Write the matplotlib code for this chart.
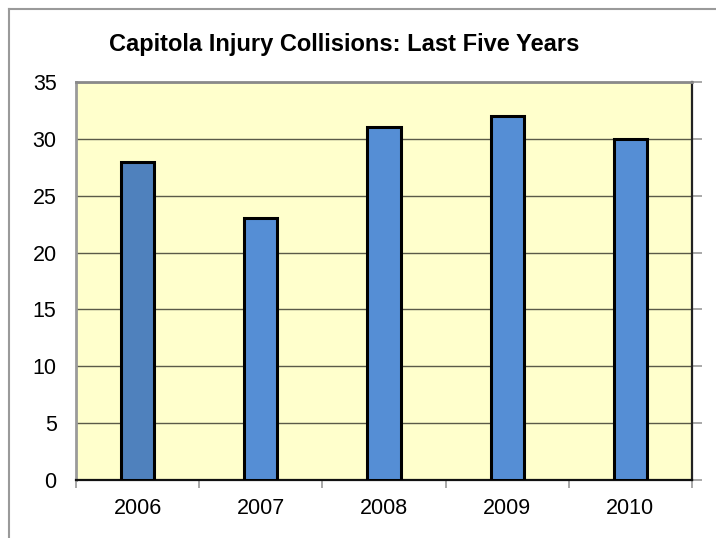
import matplotlib
matplotlib.use("Agg")
import matplotlib.pyplot as plt
from matplotlib.lines import Line2D

plt.rcParams['font.family'] = ['Liberation Sans', 'DejaVu Sans']

years = ['2006', '2007', '2008', '2009', '2010']
collisions = [28, 23, 31, 32, 30]
bar_colors = ['#4F81BD', '#558ED5', '#558ED5', '#558ED5', '#558ED5']
y_ticks = [0, 5, 10, 15, 20, 25, 30, 35]

W, H = 716, 538
fig = plt.figure(figsize=(W / 100, H / 100), dpi=100)
fig.patch.set_facecolor('white')

# outer chart border (top and left edges visible)
fig.add_artist(Line2D([9 / W, 9 / W], [0, 1 - 9 / H], transform=fig.transFigure,
                      color='#9a9a9a', lw=1.5))
fig.add_artist(Line2D([9 / W, 1], [1 - 9 / H, 1 - 9 / H], transform=fig.transFigure,
                      color='#9a9a9a', lw=1.5))

left, right, top, bottom = 76, 692, 82, 480
ax = fig.add_axes([left / W, 1 - bottom / H, (right - left) / W, (bottom - top) / H])
ax.set_facecolor('#FFFFCC')

x = list(range(len(years)))
ax.bar(x, collisions, width=0.27, color=bar_colors, edgecolor='black',
       linewidth=2.2, zorder=3)

ax.set_xlim(-0.5, len(years) - 0.5)
ax.set_ylim(0, 35)
ax.set_yticks(y_ticks)
ax.set_yticklabels([str(v) for v in y_ticks], fontsize=15.5)
ax.yaxis.grid(True, color='#5a5a48', linewidth=1.0, zorder=1)
ax.set_axisbelow(True)

# y axis: labels at left, outward ticks on the right
ax.tick_params(axis='y', which='both', left=False, right=True, labelleft=True,
               labelright=False, direction='out', length=7, width=1.2,
               color='#9a9a9a', pad=7)

# x axis: category labels, ticks at category boundaries
ax.set_xticks(x)
ax.set_xticklabels(years, fontsize=15.5)
ax.tick_params(axis='x', which='major', length=0, pad=13)
ax.set_xticks([i - 0.5 for i in range(len(years) + 1)], minor=True)
ax.tick_params(axis='x', which='minor', direction='out', length=6, width=1.2,
               color='#9a9a9a')

ax.spines['left'].set_color('#9a9a9a')
ax.spines['left'].set_linewidth(2)
ax.spines['top'].set_color('#8a8a8a')
ax.spines['top'].set_linewidth(2)
ax.spines['right'].set_color('#222222')
ax.spines['right'].set_linewidth(1.6)
ax.spines['bottom'].set_color('#111111')
ax.spines['bottom'].set_linewidth(1.6)

fig.text(344 / W, 1 - 45 / H, 'Capitola Injury Collisions: Last Five Years',
         ha='center', va='center', fontsize=17, fontweight='bold')

fig.savefig('out.png', dpi=100, facecolor='white')
